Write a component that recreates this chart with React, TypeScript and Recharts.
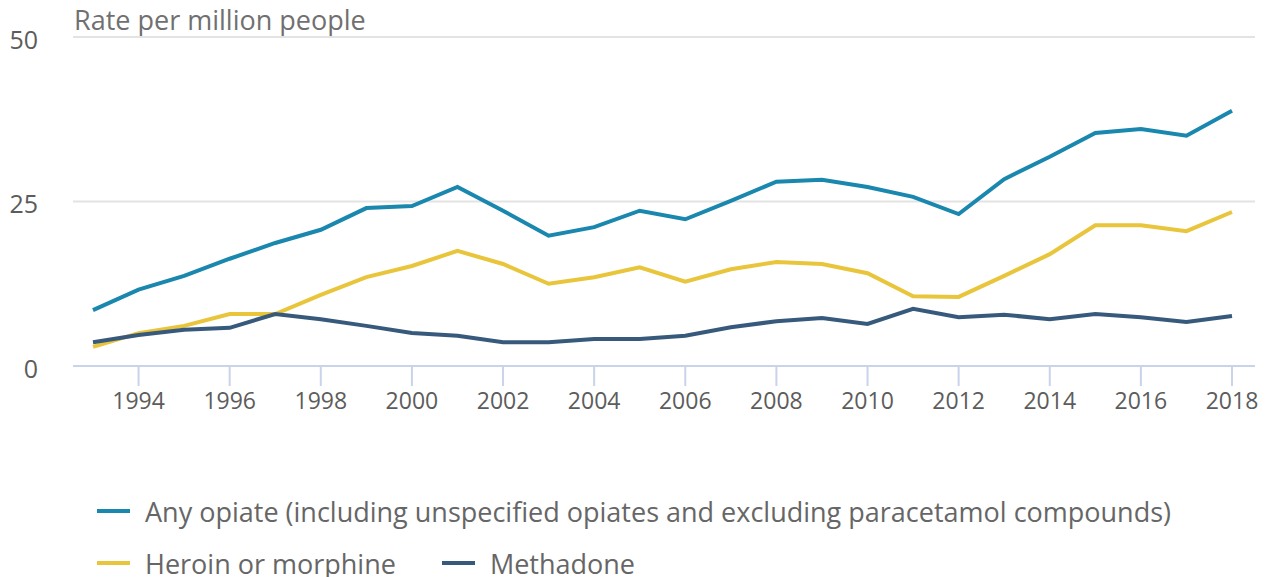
import React from 'react';
import { LineChart, Line, XAxis, YAxis, CartesianGrid } from 'recharts';

const years = [
  1993, 1994, 1995, 1996, 1997, 1998, 1999, 2000, 2001, 2002, 2003, 2004, 2005,
  2006, 2007, 2008, 2009, 2010, 2011, 2012, 2013, 2014, 2015, 2016, 2017, 2018,
];

const anyOpiate = [
  8.5, 11.6, 13.7, 16.3, 18.7, 20.7, 24.0, 24.3, 27.2, 23.6, 19.8, 21.1, 23.6,
  22.3, 25.1, 28.0, 28.3, 27.2, 25.7, 23.1, 28.4, 31.8, 35.4, 36.0, 35.0, 38.8,
];

const heroinMorphine = [
  2.9, 5.0, 6.1, 7.9, 7.9, 10.8, 13.5, 15.2, 17.5, 15.5, 12.5, 13.5, 15.0,
  12.8, 14.7, 15.8, 15.5, 14.1, 10.6, 10.5, 13.7, 17.0, 21.4, 21.4, 20.5, 23.4,
];

const methadone = [
  3.6, 4.7, 5.5, 5.8, 7.9, 7.1, 6.1, 5.0, 4.6, 3.6, 3.6, 4.1, 4.1,
  4.6, 5.9, 6.8, 7.3, 6.4, 8.7, 7.4, 7.8, 7.1, 7.9, 7.4, 6.7, 7.6,
];

const xTicks = [1994, 1996, 1998, 2000, 2002, 2004, 2006, 2008, 2010, 2012, 2014, 2016, 2018];
const yTicks = [0, 25, 50];

const SERIES = [
  { key: 'any', name: 'Any opiate (including unspecified opiates and excluding paracetamol compounds)', color: '#1a87ae' },
  { key: 'heroin', name: 'Heroin or morphine', color: '#e8c53b' },
  { key: 'methadone', name: 'Methadone', color: '#375a7c' },
];

const data = years.map((year, i) => ({
  year,
  any: anyOpiate[i],
  heroin: heroinMorphine[i],
  methadone: methadone[i],
}));

const FONT = '"Open Sans", "Noto Sans", sans-serif';

function LegendItem({ color, label }: { color: string; label: string }) {
  return (
    <div style={{ display: 'flex', alignItems: 'center', marginRight: 46 }}>
      <div style={{ width: 33, height: 4, background: color, marginRight: 15 }} />
      <span style={{ fontSize: 27, color: '#666666', whiteSpace: 'nowrap' }}>{label}</span>
    </div>
  );
}

export default function App() {
  // legend rows: first series alone, the rest together
  const rows = [SERIES.slice(0, 1), SERIES.slice(1)];
  return (
    <div style={{ position: 'relative', width: 1260, height: 569, fontFamily: FONT, overflow: 'hidden' }}>
      <div
        style={{
          position: 'absolute',
          left: 66,
          top: 0,
          fontSize: 27,
          lineHeight: '24px',
          color: '#707070',
          whiteSpace: 'nowrap',
        }}
      >
        Rate per million people
      </div>
      <LineChart
        width={1260}
        height={569}
        data={data}
        margin={{ top: 29, right: 13, left: 0, bottom: 141 }}
      >
        <CartesianGrid vertical={false} stroke="#e3e3e3" strokeWidth={2} />
        <XAxis
          dataKey="year"
          type="number"
          domain={[1993, 2018]}
          ticks={xTicks}
          padding={{ left: 20, right: 23 }}
          height={70}
          stroke="#c9d3ea"
          strokeWidth={2}
          tickSize={20}
          tickMargin={7}
          tick={{ fontSize: 23, fill: '#5c5c5c', fontFamily: FONT }}
        />
        <YAxis
          domain={[0, 50]}
          ticks={yTicks}
          width={65}
          axisLine={false}
          tickLine={false}
          tickSize={0}
          tickMargin={35}
          tick={{ fontSize: 25, fill: '#5c5c5c', fontFamily: FONT, dy: 3 }}
        />
        {SERIES.map((s) => (
          <Line
            key={s.key}
            type="linear"
            dataKey={s.key}
            name={s.name}
            stroke={s.color}
            strokeWidth={4}
            dot={false}
            activeDot={false}
            isAnimationActive={false}
          />
        ))}
      </LineChart>
      <div style={{ position: 'absolute', left: 89, top: 477 }}>
        {rows.map((row, r) => (
          <div key={r} style={{ display: 'flex', height: 52, alignItems: 'center' }}>
            {row.map((s) => (
              <LegendItem key={s.key} color={s.color} label={s.name} />
            ))}
          </div>
        ))}
      </div>
    </div>
  );
}
